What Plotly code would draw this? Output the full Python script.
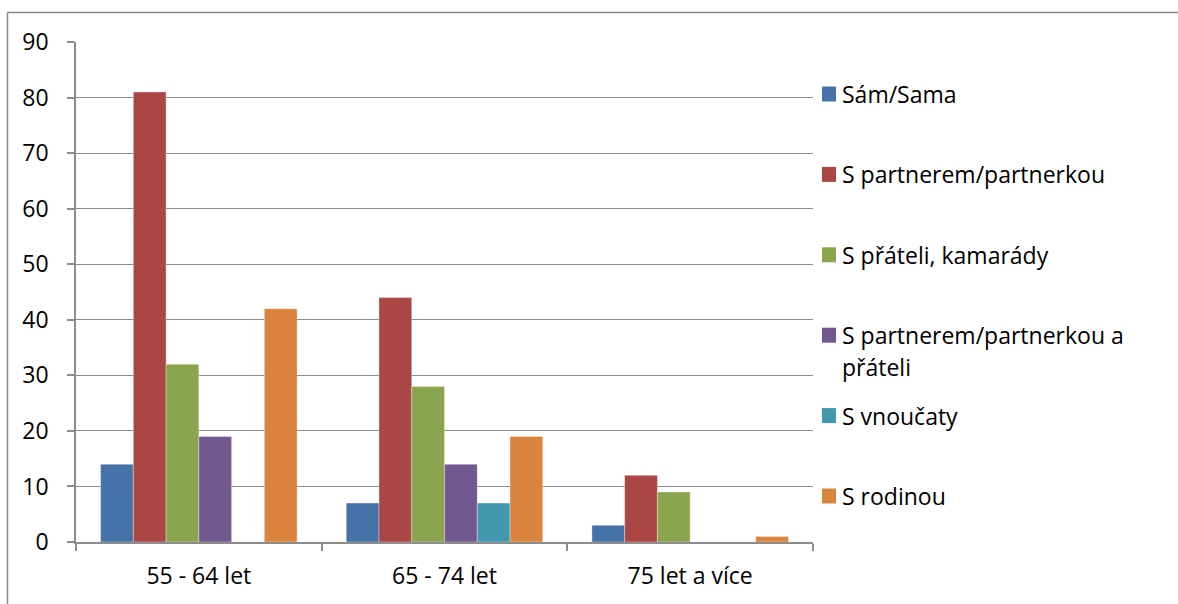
import textwrap
import plotly.graph_objects as go

# Age groups and travel-company categories
categories = ["55 - 64 let", "65 - 74 let", "75 let a více"]
series_names = [
    "Sám/Sama",
    "S partnerem/partnerkou",
    "S přáteli, kamarády",
    "S partnerem/partnerkou a přáteli",
    "S vnoučaty",
    "S rodinou",
]
sam_sama = [14, 7, 3]
s_partnerem = [81, 44, 12]
s_prateli = [32, 28, 9]
s_partnerem_a_prateli = [19, 14, 0]
s_vnoucaty = [0, 7, 0]
s_rodinou = [42, 19, 1]
y_ticks = [0, 10, 20, 30, 40, 50, 60, 70, 80, 90]

series_values = [sam_sama, s_partnerem, s_prateli,
                 s_partnerem_a_prateli, s_vnoucaty, s_rodinou]
colors = ["#4572A7", "#AA4643", "#89A54E", "#71588F", "#4198AF", "#DB843D"]

W, H = 1178, 604
PL, PR, PT, PB = 76, 813, 42, 542  # plot area in pixels
FONT = "Open Sans"
FS = 23
GRID = "#8c8c8c"


def px_x(px):
    return (px - PL) / (PR - PL)


def px_y(py):
    return (PB - py) / (PB - PT)


fig = go.Figure()
for name, vals, col in zip(series_names, series_values, colors):
    fig.add_trace(go.Bar(
        x=categories, y=vals, name=name,
        marker=dict(color=col, line=dict(color="rgba(255,255,255,0.35)", width=1)),
        showlegend=False,
    ))

# Legend drawn as colour squares with labels at the right of the plot
shapes = []
annotations = []
line_h = 32
for i, (name, col) in enumerate(zip(series_names, colors)):
    cy = 94 + i * 80.4
    shapes.append(dict(type="rect", xref="paper", yref="paper",
                       x0=px_x(822), x1=px_x(836), y0=px_y(cy + 7.5), y1=px_y(cy - 7.5),
                       fillcolor=col, line=dict(width=0)))
    for j, part in enumerate(textwrap.wrap(name, 26)):
        annotations.append(dict(text=part, xref="paper", yref="paper",
                                x=px_x(840), y=px_y(cy + j * line_h),
                                xanchor="left", yanchor="middle", showarrow=False,
                                font=dict(family=FONT, size=FS, color="#000000")))

# Chart-area frame (top and left edges)
shapes.append(dict(type="line", xref="paper", yref="paper",
                   x0=px_x(7.5), x1=px_x(W + 5), y0=px_y(12.5), y1=px_y(12.5),
                   line=dict(color="#878787", width=1.5)))
shapes.append(dict(type="line", xref="paper", yref="paper",
                   x0=px_x(7.5), x1=px_x(7.5), y0=px_y(12.5), y1=px_y(H + 5),
                   line=dict(color="#878787", width=1.5)))

fig.update_layout(
    width=W, height=H,
    margin=dict(l=PL, r=W - PR, t=PT, b=H - PB),
    paper_bgcolor="white", plot_bgcolor="white",
    barmode="group", bargap=0.2, bargroupgap=0,
    font=dict(family=FONT, size=FS, color="#000000"),
    shapes=shapes, annotations=annotations,
)
fig.update_xaxes(
    showline=True, linecolor=GRID, linewidth=1.5,
    ticks="outside", tickson="boundaries", ticklen=7, tickcolor=GRID, tickwidth=1.5,
    tickfont=dict(family=FONT, size=FS), ticklabelstandoff=13,
    showgrid=False,
)
fig.update_yaxes(
    range=[0, 90], tickvals=y_ticks,
    showline=True, linecolor=GRID, linewidth=1.5,
    ticks="outside", ticklen=7, tickcolor=GRID, tickwidth=1.5,
    showgrid=True, gridcolor=GRID, gridwidth=1,
    tickfont=dict(family=FONT, size=FS), ticklabelstandoff=14,
    zeroline=False,
)

fig.write_html("out.html")
